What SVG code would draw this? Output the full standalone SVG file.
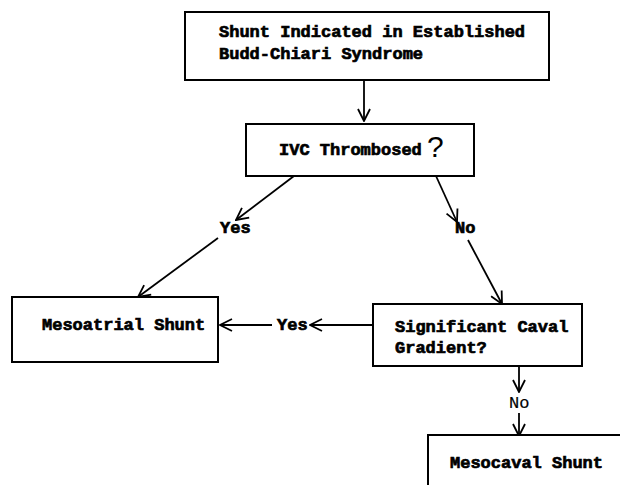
<svg xmlns="http://www.w3.org/2000/svg" width="620" height="485" viewBox="0 0 620 485">
<style>
.box{fill:#fff;stroke:#000;stroke-width:2}
.t{font-family:"Liberation Mono","Courier New",monospace;font-weight:bold;font-size:17px;fill:#000;stroke:#000;stroke-width:0.7}
.tl{font-family:"Liberation Mono","Courier New",monospace;font-size:17px;fill:#000;stroke:#000;stroke-width:0.2}
.q{font-family:"Liberation Sans",Arial,sans-serif;font-size:30px;fill:#000}
.c{fill:none;stroke:#000;stroke-width:1.8}
</style>
<defs>
<marker id="ah" viewBox="0 0 14 14" refX="13" refY="7" markerWidth="14" markerHeight="14" markerUnits="userSpaceOnUse" orient="auto">
<path d="M1,1 L13,7 L1,13" fill="none" stroke="#000" stroke-width="1.8"/>
</marker>
</defs>
<rect width="620" height="485" fill="#fff"/>
<g id="connectors">
<line class="c" x1="364" y1="80" x2="364" y2="121" marker-end="url(#ah)"/>
<line class="c" x1="294" y1="176" x2="236" y2="220" marker-end="url(#ah)"/>
<line class="c" x1="218" y1="238" x2="138" y2="297" marker-end="url(#ah)"/>
<line class="c" x1="436" y1="176" x2="457" y2="222" marker-end="url(#ah)"/>
<line class="c" x1="468" y1="240" x2="502" y2="304" marker-end="url(#ah)"/>
<line class="c" x1="373" y1="325" x2="310" y2="325" marker-end="url(#ah)"/>
<line class="c" x1="272" y1="325" x2="220" y2="325" marker-end="url(#ah)"/>
<line class="c" x1="519" y1="367" x2="519" y2="392" marker-end="url(#ah)"/>
<line class="c" x1="519" y1="413" x2="519" y2="436" marker-end="url(#ah)"/>
<text class="t" x="220" y="233">Yes</text>
<text class="t" x="455" y="233">No</text>
<text class="t" x="277" y="330">Yes</text>
<text class="tl" x="509" y="408">No</text>
</g>
<g id="start">
<rect class="box" x="185" y="12" width="364" height="68"/>
<text class="t" x="219" y="37">Shunt Indicated in Established</text>
<text class="t" x="219" y="59">Budd-Chiari Syndrome</text>
</g>
<g id="ivc">
<rect class="box" x="246" y="124" width="228" height="52"/>
<text class="t" x="279" y="155">IVC Thrombosed</text>
<text class="q" x="427" y="157">?</text>
</g>
<g id="mesoatrial">
<rect class="box" x="12" y="297" width="206" height="65"/>
<text class="t" x="42" y="330">Mesoatrial Shunt</text>
</g>
<g id="gradient">
<rect class="box" x="373" y="304" width="209" height="62"/>
<text class="t" x="395" y="332">Significant Caval</text>
<text class="t" x="395" y="353">Gradient?</text>
</g>
<g id="mesocaval">
<rect class="box" x="428" y="435" width="220" height="70"/>
<text class="t" x="450" y="468">Mesocaval Shunt</text>
</g>
</svg>
